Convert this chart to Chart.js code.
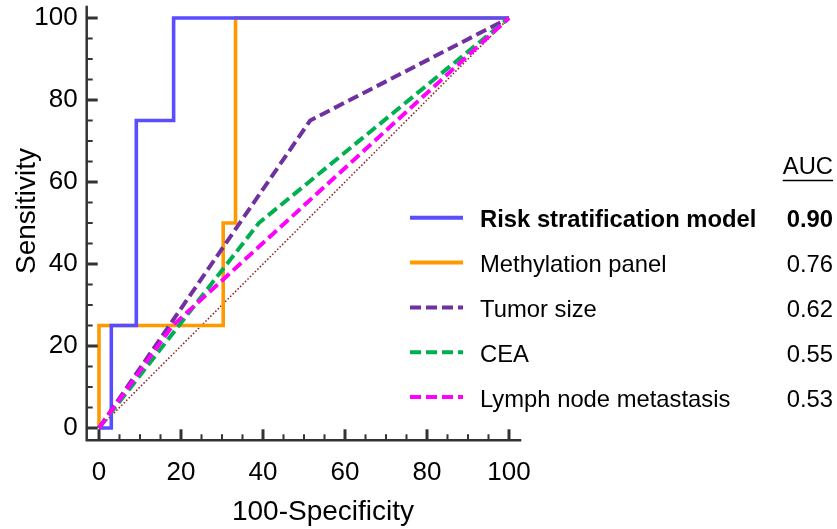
<!DOCTYPE html>
<html><head><meta charset="utf-8">
<script src="https://cdn.jsdelivr.net/npm/chart.js@4.4.0/dist/chart.umd.min.js"></script>
<style>html,body{margin:0;padding:0;background:#fff;overflow:hidden}#wrap{width:837px;height:529px}</style>
</head><body><div id="wrap"><canvas id="c" width="837" height="529"></canvas></div>
<script>
// ---- data ----
const xTicks = [0, 20, 40, 60, 80, 100];
const yTicks = [0, 20, 40, 60, 80, 100];
const seriesNames = ['Risk stratification model', 'Methylation panel', 'Tumor size', 'CEA', 'Lymph node metastasis'];
const aucValues = ['0.90', '0.76', '0.62', '0.55', '0.53'];
const riskX = [0, 3, 3, 9.1, 9.1, 18.2, 18.2, 100];
const riskY = [0, 0, 25, 25, 75, 75, 100, 100];
const methX = [0, 0, 30.3, 30.3, 33.3, 33.3, 100];
const methY = [0, 25, 25, 50, 50, 100, 100];
const tumorX = [0, 51.5, 100];
const tumorY = [0, 75, 100];
const ceaX = [0, 39, 100];
const ceaY = [0, 50, 100];
const lymphX = [0, 18, 100];
const lymphY = [0, 25, 100];
const refX = [0, 100];
const refY = [0, 100];

// ---- styles ----
const FONT = '"Liberation Sans", Arial, sans-serif';
const colors = ['#5a4cff', '#ff9900', '#7030a0', '#00b050', '#ff00ff'];
const dashes = [[], [], [11, 5], [11, 5], [11, 5]];
const widths = [3.6, 3.6, 4, 4, 4];
const AXIS = '#333333';

const pts = (xs, ys) => xs.map((x, i) => ({x: x, y: ys[i]}));
const seriesPts = [pts(riskX, riskY), pts(methX, methY), pts(tumorX, tumorY), pts(ceaX, ceaY), pts(lymphX, lymphY)];
const drawOrder = [3, 4, 2, 1, 0]; // lower = on top

const datasets = seriesPts.map((d, i) => ({
  label: seriesNames[i], data: d, borderColor: colors[i], borderWidth: widths[i],
  borderDash: dashes[i], pointRadius: 0, tension: 0, fill: false, showLine: true,
  order: drawOrder[i], borderCapStyle: 'butt', borderJoinStyle: 'miter'
}));
datasets.push({label: 'ref', data: pts(refX, refY), borderColor: '#8b1a1a', borderWidth: 1.5,
  borderDash: [1.5, 2], pointRadius: 0, showLine: true, fill: false, order: 10});

const noPad = s => { s.paddingTop = 0; s.paddingBottom = 0; s.paddingLeft = 0; s.paddingRight = 0; };

const axisPlugin = {
  id: 'axisPlugin',
  afterDraw(chart) {
    const ctx = chart.ctx, a = chart.chartArea;
    const xs = chart.scales.x, ys = chart.scales.y;
    ctx.save();
    ctx.strokeStyle = AXIS;
    ctx.lineWidth = 2.5;
    ctx.lineJoin = 'miter';
    ctx.beginPath();
    ctx.moveTo(a.left, a.top);
    ctx.lineTo(a.left, a.bottom);
    ctx.lineTo(a.right, a.bottom);
    ctx.stroke();
    for (let v = 0; v <= 100; v += 5) {
      const major = v % 20 === 0;
      ctx.lineWidth = major ? 3 : 2;
      const len = major ? 11 : 6;
      const py = ys.getPixelForValue(v);
      ctx.beginPath(); ctx.moveTo(a.left, py); ctx.lineTo(a.left + len, py); ctx.stroke();
      const px = xs.getPixelForValue(v);
      ctx.beginPath(); ctx.moveTo(px, a.bottom); ctx.lineTo(px, a.bottom - len); ctx.stroke();
    }
    // axis titles
    ctx.fillStyle = '#000';
    ctx.font = '28px ' + FONT;
    ctx.textAlign = 'center';
    ctx.textBaseline = 'alphabetic';
    ctx.fillText('100-Specificity', 323, 520);
    ctx.save();
    ctx.translate(35, 211);
    ctx.rotate(-Math.PI / 2);
    ctx.fillText('Sensitivity', 0, 0);
    ctx.restore();
    // legend
    ctx.font = '23.8px ' + FONT;
    ctx.textAlign = 'right';
    ctx.fillText('AUC', 833, 174);
    const w = ctx.measureText('AUC').width;
    ctx.lineWidth = 1.5; ctx.strokeStyle = '#000';
    ctx.beginPath(); ctx.moveTo(833 - w, 180.5); ctx.lineTo(833, 180.5); ctx.stroke();
    for (let i = 0; i < seriesNames.length; i++) {
      const base = 227.3 + i * 44.8;
      const ly = base - 9.5;
      ctx.strokeStyle = colors[i];
      ctx.lineWidth = 4;
      ctx.setLineDash(dashes[i]);
      ctx.beginPath(); ctx.moveTo(410, ly); ctx.lineTo(463, ly); ctx.stroke();
      ctx.setLineDash([]);
      ctx.font = (i === 0 ? 'bold ' : '') + '23.8px ' + FONT;
      ctx.textAlign = 'left';
      ctx.fillText(seriesNames[i], 480, base);
      ctx.textAlign = 'right';
      ctx.fillText(aucValues[i], 833, base);
    }
    ctx.restore();
  }
};

new Chart(document.getElementById('c'), {
  type: 'scatter',
  data: {datasets: datasets},
  options: {
    responsive: false, animation: false, devicePixelRatio: 1,
    layout: {padding: {left: 0, top: 5.7, right: 315.7, bottom: 0}},
    plugins: {legend: {display: false}, tooltip: {enabled: false}},
    scales: {
      x: {
        type: 'linear', min: -3, max: 103,
        afterBuildTicks: s => { s.ticks = xTicks.map(v => ({value: v})); },
        afterFit: s => { s.height = 88.7; noPad(s); },
        grid: {display: false, drawTicks: false}, border: {display: false},
        ticks: {font: {family: FONT, size: 26}, color: '#000', padding: 16.5, maxRotation: 0, autoSkip: false}
      },
      y: {
        type: 'linear', min: -3, max: 103,
        afterBuildTicks: s => { s.ticks = yTicks.map(v => ({value: v})); },
        afterFit: s => { s.width = 86.7; noPad(s); },
        grid: {display: false, drawTicks: false}, border: {display: false},
        ticks: {font: {family: FONT, size: 26}, color: '#000', padding: 9, autoSkip: false}
      }
    }
  },
  plugins: [axisPlugin]
});
</script></body></html>
